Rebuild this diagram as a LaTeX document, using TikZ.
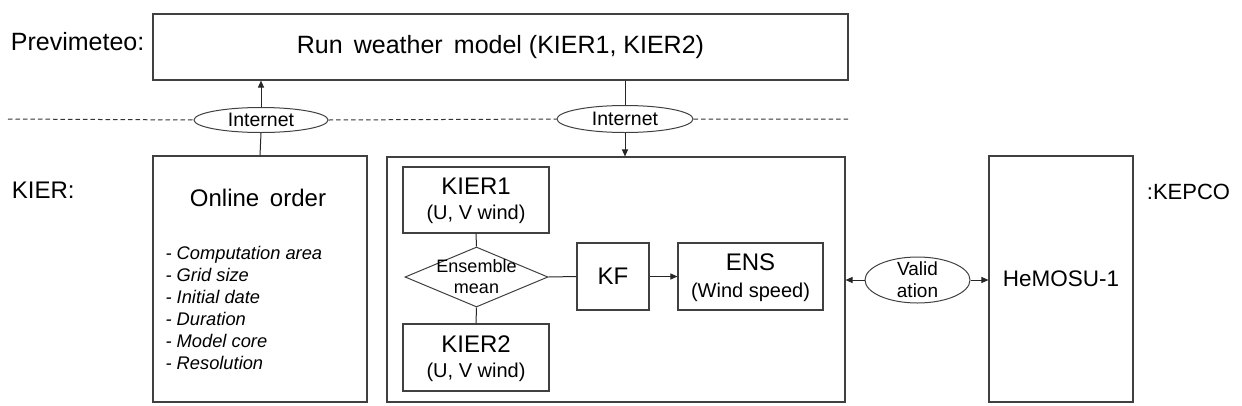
\documentclass[tikz,border=0pt]{standalone}
\usepackage{fontspec}
\setmainfont{Liberation Sans}
\usetikzlibrary{shapes.geometric,arrows.meta}
\begin{document}
\begin{tikzpicture}[x=1pt,y=-1pt,
  line width=1.1pt,
  box/.style={draw=black!75,rectangle,inner sep=0pt,line width=1.1pt},
  oval/.style={draw=black!75,ellipse,inner sep=0pt,line width=1pt},
  conn/.style={draw=black!85,line width=1pt},
  arr/.style={conn,-{Triangle[length=7pt,width=6pt]}},
  fbig/.style={font=\fontsize{24}{28}\selectfont},
  fmid/.style={font=\fontsize{20}{22}\selectfont},
  fsmall/.style={font=\fontsize{19.5}{21}\selectfont},
]
\useasboundingbox (0,0) rectangle (1242,405);
% labels
\node[font=\fontsize{25}{28}\selectfont,anchor=west] (lprev) at (7,42) {Previmeteo:};
\node[fbig,anchor=west] (lkier) at (8,190) {KIER:};
\node[font=\fontsize{22}{24}\selectfont,anchor=west] (lkepco) at (1143,192) {:KEPCO};
% main boxes
\node[box,minimum width=695pt,minimum height=66pt] (top) at (500.5,47) {};
\node[font=\fontsize{25}{28}\selectfont] at (top.center) {Run\, weather\, model (KIER1, KIER2)};
\node[box,minimum width=214pt,minimum height=246pt] (online) at (260,279) {};
\node[box,minimum width=458pt,minimum height=245pt] (mid) at (616,279.5) {};
\node[box,minimum width=144pt,minimum height=246pt] (hemo) at (1061,279) {};
\node[font=\fontsize{22.5}{24}\selectfont] at (hemo.center) {HeMOSU-1};
% online order text
\node[fbig] (otitle) at (258,198) {Online\, order};
\node[font=\fontsize{18.3}{22}\selectfont\itshape,anchor=north west,align=left,inner sep=0pt] (olist) at (165,246)
 {- Computation area\\- Grid size\\- Initial date\\- Duration\\- Model core\\- Resolution};
% inner boxes
\node[box,minimum width=146pt,minimum height=66pt] (k1) at (476,200) {};
\node[fbig,yshift=-20pt] at (k1.north) {KIER1};
\node[fmid,yshift=-48pt] at (k1.north) {(U, V wind)};
\node[box,minimum width=146pt,minimum height=67pt] (k2) at (476,357.5) {};
\node[fbig,yshift=-21pt] at (k2.north) {KIER2};
\node[fmid,yshift=-49pt] at (k2.north) {(U, V wind)};
\node[draw=black!75,diamond,line width=1pt,minimum width=143pt,minimum height=60pt,inner sep=0pt] (dia) at (476.5,277) {};
\node[align=center,font=\fontsize{18}{21}\selectfont] at (dia.center) {Ensemble\\mean};
\node[box,minimum width=72pt,minimum height=67pt] (kf) at (613,276.5) {};
\node[fbig] at (kf.center) {KF};
\node[box,minimum width=145pt,minimum height=67pt] (ens) at (750.5,276.5) {};
\node[fbig,yshift=-20pt] at (ens.north) {ENS};
\node[fmid,yshift=-50pt] at (ens.north) {(Wind speed)};
% ellipses
\node[oval,minimum width=134pt,minimum height=25pt] (e1) at (261,120) {};
\node[fsmall] at (e1.center) {Internet};
\node[oval,minimum width=136pt,minimum height=27pt] (e2) at (625,119) {};
\node[fsmall] at (e2.center) {Internet};
\node[oval,minimum width=105pt,minimum height=46pt] (val) at (917.5,280) {};
\node[align=center,font=\fontsize{19}{22}\selectfont] at (val.center) {Valid\\ation};
% dashed line
\coordinate (dl) at (8,119);
\coordinate (dr) at (848,119);
\draw[black!80,line width=1pt,dash pattern=on 4.5pt off 3pt] (dl) -- (e1.west) (e1.east) -- (e2.west) (e2.east) -- (dr);
% connectors
\draw[conn] (online.north) -- (e1.south);
\draw[arr] (e1.north) -- (e1.north |- top.south);
\draw[conn] (e2.north |- top.south) -- (e2.north);
\draw[arr] (e2.south) -- (e2.south |- mid.north);
\draw[conn] (k1.south) -- (dia.north);
\draw[conn] (dia.south) -- (k2.north);
\draw[conn] (dia.east) -- (kf.west);
\draw[arr] (kf.east) -- (ens.west);
\draw[arr] (val.west) -- (val.west -| mid.east);
\draw[arr] (val.east) -- (val.east -| hemo.west);
\end{tikzpicture}
\end{document}
